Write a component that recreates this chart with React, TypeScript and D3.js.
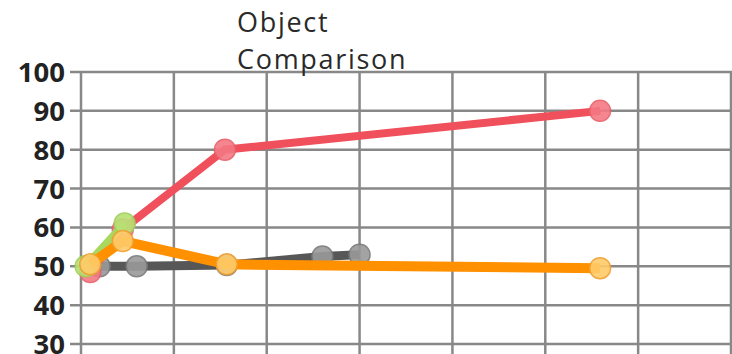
import React from "react";
import * as d3 from "d3";

const yTicks = [30, 40, 50, 60, 70, 80, 90, 100];
const xGrid = [0, 1, 2, 3, 4, 5, 6, 7];

const grayX = [0.2, 0.6, 1.57, 2.6, 3.0];
const grayY = [50, 50, 50.3, 52.5, 53];
const redX = [0.1, 0.45, 1.55, 5.59];
const redY = [48.5, 59.5, 80, 90];
const greenX = [0.05, 0.47];
const greenY = [50, 61];
const orangeX = [0.1, 0.45, 1.57, 5.59];
const orangeY = [50.5, 56.5, 50.5, 49.5];

const series = [
  { name: "gray", xs: grayX, ys: grayY, line: "#575757", width: 9, fill: "#9a9a9a", stroke: "#7a7a7a" },
  { name: "red", xs: redX, ys: redY, line: "#f0505c", width: 8, fill: "#f47882", stroke: "#e8606a" },
  { name: "green", xs: greenX, ys: greenY, line: "#a8d860", width: 8, fill: "#b8e275", stroke: "#9fd05a" },
  { name: "orange", xs: orangeX, ys: orangeY, line: "#ff9000", width: 10, fill: "#ffcb6a", stroke: "#f0a030" },
];

export default function App() {
  const W = 732, H = 354;
  const x = d3.scaleLinear().domain([0, 7]).range([81, 731]);
  const y = d3.scaleLinear().domain([30, 100]).range([344, 72]);
  const line = d3.line<[number, number]>().x(d => x(d[0])).y(d => y(d[1]));
  return (
    <svg width={W} height={H} style={{ position: "absolute", left: 0, top: 0, background: "#fff" }}>
      <g stroke="#888" strokeWidth={2.5}>
        {yTicks.map(t => (
          <line key={"h" + t} x1={70} x2={W} y1={y(t)} y2={y(t)} />
        ))}
        {xGrid.map(t => (
          <line key={"v" + t} x1={x(t)} x2={x(t)} y1={y(100)} y2={H} />
        ))}
      </g>
      <g fontFamily="'Open Sans', sans-serif" fontWeight={700} fontSize={27.5} fill="#222" textAnchor="end">
        {yTicks.map(t => (
          <text key={"l" + t} x={65} y={y(t) + 10}>{t}</text>
        ))}
      </g>
      <g fontFamily="'Open Sans', sans-serif" fontWeight={500} fontSize={27} fill="#2a2a2a" letterSpacing={1.7}>
        <text x={237} y={32}>Object</text>
        <text x={237} y={69}>Comparison</text>
      </g>
      {series.map(s => {
        const pts = s.xs.map((v, i) => [v, s.ys[i]] as [number, number]);
        return (
          <g key={s.name}>
            <path d={line(pts) || ""} fill="none" stroke={s.line} strokeWidth={s.width} strokeLinejoin="miter" />
            {pts.map((p, i) => (
              <circle key={i} cx={x(p[0])} cy={y(p[1])} r={10.5} fill={s.fill} stroke={s.stroke} strokeWidth={1.5} opacity={0.9} />
            ))}
          </g>
        );
      })}
    </svg>
  );
}
